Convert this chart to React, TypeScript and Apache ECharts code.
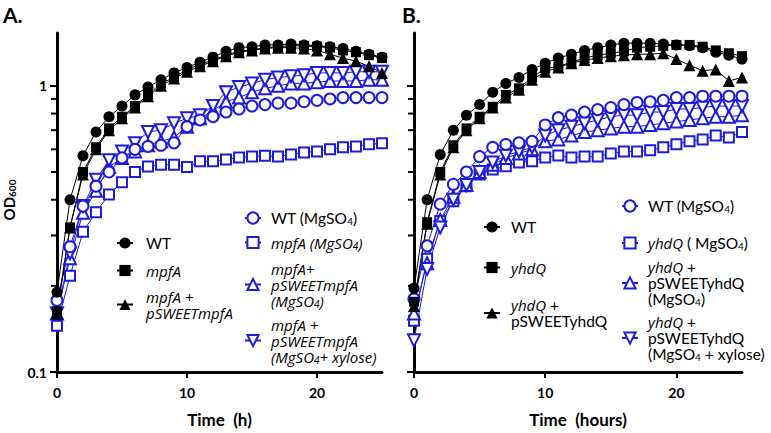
import React, { useEffect, useRef } from 'react';
import * as echarts from 'echarts';

// ---------------- data ----------------
const HOURS = [0, 1, 2, 3, 4, 5, 6, 7, 8, 9, 10, 11, 12, 13, 14, 15, 16, 17, 18, 19, 20, 21, 22, 23, 24, 25];
const X_TICKS = [0, 10, 20];
const Y_TICKS = [0.1, 1];
const Y_MINOR_TICKS = [0.2, 0.3, 0.4, 0.5, 0.6, 0.7, 0.8, 0.9];

// Panel A
const A_WT = [0.19, 0.40, 0.57, 0.69, 0.78, 0.85, 0.93, 0.99, 1.05, 1.11, 1.16, 1.21, 1.26, 1.32, 1.36, 1.37, 1.39, 1.39, 1.40, 1.39, 1.38, 1.37, 1.35, 1.32, 1.29, 1.26];
const A_MPFA = [0.163, 0.32, 0.50, 0.61, 0.71, 0.78, 0.85, 0.93, 1.02, 1.07, 1.14, 1.19, 1.23, 1.28, 1.32, 1.34, 1.36, 1.37, 1.38, 1.38, 1.37, 1.36, 1.33, 1.31, 1.28, 1.25];
const A_MPFA_COMP = [0.16, 0.32, 0.49, 0.60, 0.70, 0.77, 0.84, 0.92, 1.00, 1.06, 1.12, 1.17, 1.22, 1.27, 1.31, 1.33, 1.35, 1.36, 1.36, 1.35, 1.33, 1.29, 1.25, 1.22, 1.17, 1.11];
const A_WT_MG = [0.178, 0.274, 0.38, 0.446, 0.50, 0.56, 0.60, 0.614, 0.62, 0.632, 0.72, 0.76, 0.78, 0.81, 0.83, 0.85, 0.86, 0.87, 0.87, 0.88, 0.89, 0.90, 0.91, 0.91, 0.91, 0.91];
const A_MPFA_MG = [0.145, 0.217, 0.309, 0.362, 0.417, 0.46, 0.50, 0.523, 0.53, 0.53, 0.52, 0.545, 0.545, 0.553, 0.562, 0.566, 0.57, 0.566, 0.576, 0.585, 0.59, 0.60, 0.61, 0.614, 0.625, 0.63];
const A_COMP_MG = [0.16, 0.25, 0.36, 0.43, 0.52, 0.56, 0.59, 0.62, 0.64, 0.66, 0.72, 0.77, 0.82, 0.88, 0.91, 0.95, 0.98, 1.0, 1.02, 1.02, 1.03, 1.04, 1.04, 1.04, 1.05, 1.05];
const A_COMP_MG_XYL = [0.16, 0.26, 0.38, 0.47, 0.55, 0.59, 0.63, 0.69, 0.70, 0.74, 0.77, 0.79, 0.85, 0.95, 0.99, 1.02, 1.05, 1.07, 1.08, 1.09, 1.11, 1.11, 1.11, 1.12, 1.12, 1.12];

// Panel B
const B_WT = [0.196, 0.40, 0.575, 0.70, 0.79, 0.86, 0.95, 1.02, 1.07, 1.14, 1.20, 1.25, 1.29, 1.33, 1.36, 1.39, 1.41, 1.41, 1.41, 1.40, 1.39, 1.38, 1.36, 1.31, 1.28, 1.24];
const B_YHDQ = [0.176, 0.334, 0.50, 0.62, 0.71, 0.78, 0.845, 0.93, 0.98, 1.07, 1.15, 1.17, 1.21, 1.25, 1.28, 1.30, 1.32, 1.36, 1.37, 1.38, 1.39, 1.39, 1.37, 1.33, 1.30, 1.27];
const B_YHDQ_COMP = [0.17, 0.33, 0.49, 0.61, 0.70, 0.77, 0.84, 0.91, 0.97, 1.05, 1.12, 1.16, 1.20, 1.23, 1.25, 1.27, 1.28, 1.29, 1.29, 1.30, 1.24, 1.18, 1.13, 1.14, 1.04, 1.07];
const B_WT_MG = [0.18, 0.276, 0.386, 0.453, 0.50, 0.566, 0.61, 0.624, 0.632, 0.64, 0.73, 0.774, 0.79, 0.81, 0.826, 0.84, 0.86, 0.875, 0.88, 0.89, 0.91, 0.91, 0.92, 0.92, 0.92, 0.92];
const B_YHDQ_MG = [0.151, 0.249, 0.337, 0.395, 0.446, 0.49, 0.51, 0.524, 0.54, 0.545, 0.562, 0.571, 0.562, 0.566, 0.566, 0.58, 0.59, 0.59, 0.595, 0.61, 0.625, 0.64, 0.65, 0.67, 0.66, 0.69];
const B_COMP_MG = [0.16, 0.24, 0.34, 0.41, 0.45, 0.50, 0.53, 0.56, 0.58, 0.60, 0.64, 0.65, 0.67, 0.69, 0.70, 0.71, 0.72, 0.72, 0.73, 0.74, 0.75, 0.76, 0.77, 0.78, 0.78, 0.79];
const B_COMP_MG_XYL = [0.129, 0.229, 0.32, 0.40, 0.45, 0.50, 0.54, 0.57, 0.59, 0.61, 0.67, 0.70, 0.72, 0.74, 0.76, 0.78, 0.79, 0.79, 0.81, 0.81, 0.83, 0.83, 0.84, 0.85, 0.85, 0.85];

// legend labels (rich text)
const LABELS: Record<string, string> = {
  'A WT': '{n|WT}',
  'A mpfA': '{i|mpfA}',
  'A mpfA + pSWEETmpfA': '{i|mpfA +}\n{i|pSWEETmpfA}',
  'A WT (MgSO4)': '{n|WT (MgSO}{ns|4}{n|)}',
  'A mpfA (MgSO4)': '{i|mpfA (MgSO}{is|4}{i|)}',
  'A mpfA+ pSWEETmpfA (MgSO4)': '{i|mpfA+}\n{i|pSWEETmpfA}\n{i|(MgSO}{is|4}{i|)}',
  'A mpfA + pSWEETmpfA (MgSO4 + xylose)': '{i|mpfA +}\n{i|pSWEETmpfA}\n{i|(MgSO}{is|4}{i|+ xylose)}',
  'B WT': '{n|WT}',
  'B yhdQ': '{i|yhdQ}',
  'B yhdQ + pSWEETyhdQ': '{i|yhdQ}{n| +}\n{n|pSWEETyhdQ}',
  'B WT (MgSO4)': '{n|WT (MgSO}{ns|4}{n|)}',
  'B yhdQ ( MgSO4)': '{i|yhdQ}{n| ( MgSO}{ns|4}{n|)}',
  'B yhdQ + pSWEETyhdQ (MgSO4)': '{i|yhdQ}{n| +}\n{n|pSWEETyhdQ}\n{n|(MgSO}{ns|4}{n|)}',
  'B yhdQ + pSWEETyhdQ (MgSO4 + xylose)': '{i|yhdQ}{n| +}\n{n|pSWEETyhdQ}\n{n|(MgSO}{ns|4}{n| + xylose)}',
};

// ---------------- styling ----------------
const FONT = 'Lato, "Noto Sans", "DejaVu Sans", sans-serif';
const IFONT = '"Open Sans", "Noto Sans", "DejaVu Sans", sans-serif';
const BLUE = '#1c1cdc';
const BLACK = '#000000';

const RICH = {
  n: { fontFamily: FONT, fontSize: 15.5, lineHeight: 16, color: BLACK },
  i: { fontFamily: IFONT, fontSize: 15, lineHeight: 16, color: BLACK, fontStyle: 'italic', fontWeight: 'normal' },
  ns: { fontFamily: FONT, fontSize: 10, lineHeight: 6, color: BLACK, verticalAlign: 'bottom' },
  is: { fontFamily: IFONT, fontSize: 10, lineHeight: 6, color: BLACK, fontStyle: 'italic', fontWeight: 'normal', verticalAlign: 'bottom' },
};

type Spec = { name: string; data: number[]; panel: number; symbol: string; color: string; size: number; rotate?: number };

const SERIES_SPECS: Spec[] = [
  { name: 'A mpfA (MgSO4)', data: A_MPFA_MG, panel: 0, symbol: 'emptyRect', color: BLUE, size: 10 },
  { name: 'A mpfA+ pSWEETmpfA (MgSO4)', data: A_COMP_MG, panel: 0, symbol: 'emptyTriangle', color: BLUE, size: 12 },
  { name: 'A mpfA + pSWEETmpfA (MgSO4 + xylose)', data: A_COMP_MG_XYL, panel: 0, symbol: 'emptyTriangle', color: BLUE, size: 12, rotate: 180 },
  { name: 'A WT (MgSO4)', data: A_WT_MG, panel: 0, symbol: 'emptyCircle', color: BLUE, size: 11 },
  { name: 'A mpfA + pSWEETmpfA', data: A_MPFA_COMP, panel: 0, symbol: 'triangle', color: BLACK, size: 12 },
  { name: 'A mpfA', data: A_MPFA, panel: 0, symbol: 'rect', color: BLACK, size: 10 },
  { name: 'A WT', data: A_WT, panel: 0, symbol: 'circle', color: BLACK, size: 11 },
  { name: 'B yhdQ ( MgSO4)', data: B_YHDQ_MG, panel: 1, symbol: 'emptyRect', color: BLUE, size: 10 },
  { name: 'B yhdQ + pSWEETyhdQ (MgSO4)', data: B_COMP_MG, panel: 1, symbol: 'emptyTriangle', color: BLUE, size: 12 },
  { name: 'B yhdQ + pSWEETyhdQ (MgSO4 + xylose)', data: B_COMP_MG_XYL, panel: 1, symbol: 'emptyTriangle', color: BLUE, size: 12, rotate: 180 },
  { name: 'B WT (MgSO4)', data: B_WT_MG, panel: 1, symbol: 'emptyCircle', color: BLUE, size: 11 },
  { name: 'B yhdQ + pSWEETyhdQ', data: B_YHDQ_COMP, panel: 1, symbol: 'triangle', color: BLACK, size: 12 },
  { name: 'B yhdQ', data: B_YHDQ, panel: 1, symbol: 'rect', color: BLACK, size: 10 },
  { name: 'B WT', data: B_WT, panel: 1, symbol: 'circle', color: BLACK, size: 11 },
];

// legend placement (layout only)
const LEGEND_LAYOUT = [
  { name: 'A WT', left: 116, top: 235, pad: 8 },
  { name: 'A mpfA', left: 116, top: 263, pad: 8 },
  { name: 'A mpfA + pSWEETmpfA', left: 116, top: 289, pad: 8 },
  { name: 'A WT (MgSO4)', left: 244, top: 210, pad: 5 },
  { name: 'A mpfA (MgSO4)', left: 244, top: 235, pad: 5 },
  { name: 'A mpfA+ pSWEETmpfA (MgSO4)', left: 244, top: 261, pad: 5 },
  { name: 'A mpfA + pSWEETmpfA (MgSO4 + xylose)', left: 244, top: 317, pad: 5 },
  { name: 'B WT', left: 483, top: 219, pad: 6 },
  { name: 'B yhdQ', left: 483, top: 260, pad: 6 },
  { name: 'B yhdQ + pSWEETyhdQ', left: 483, top: 297, pad: 6 },
  { name: 'B WT (MgSO4)', left: 621, top: 198, pad: 5 },
  { name: 'B yhdQ ( MgSO4)', left: 621, top: 235, pad: 5 },
  { name: 'B yhdQ + pSWEETyhdQ (MgSO4)', left: 621, top: 259, pad: 5 },
  { name: 'B yhdQ + pSWEETyhdQ (MgSO4 + xylose)', left: 621, top: 314, pad: 5 },
];

function buildOption() {
  const axisLine = { show: true, onZero: false, lineStyle: { color: BLACK, width: 3 } };
  const tickLabel = { fontFamily: FONT, fontSize: 14, fontWeight: 'bold', color: BLACK };

  const xAxes = [0, 1].map((g) => ({
    gridIndex: g,
    type: 'value',
    min: 0,
    max: 25,
    interval: 10,
    axisLine,
    axisTick: { show: true, length: 6, lineStyle: { color: BLACK, width: 2 }, customValues: X_TICKS },
    axisLabel: { ...tickLabel, margin: 13, customValues: X_TICKS },
    splitLine: { show: false },
    name: g === 0 ? 'Time  (h)' : 'Time  (hours)',
    nameLocation: 'middle',
    nameGap: 39,
    nameTextStyle: { fontFamily: FONT, fontSize: 17, fontWeight: 'bold', color: BLACK },
  }));

  const yAxes = [0, 1].map((g) => ({
    gridIndex: g,
    type: 'log',
    logBase: 10,
    min: 0.1,
    max: 1.53,
    axisLine,
    axisTick: { show: true, length: 7, lineStyle: { color: BLACK, width: 2 }, customValues: Y_TICKS },
    axisLabel: { show: g === 0, ...tickLabel, margin: 10, customValues: Y_TICKS },
    splitLine: { show: false },
    minorTick: { show: false },
  }));

  const series: any[] = SERIES_SPECS.map((s) => ({
    type: 'line',
    name: s.name,
    xAxisIndex: s.panel,
    yAxisIndex: s.panel,
    data: HOURS.map((h, i) => [h, s.data[i]]),
    symbol: s.symbol,
    symbolSize: s.size,
    symbolRotate: s.rotate || 0,
    showAllSymbol: true,
    lineStyle: { color: s.color, width: 1 },
    itemStyle: { color: s.color, borderColor: s.color, borderWidth: s.symbol.startsWith('empty') ? 2 : 0 },
    emphasis: { disabled: true },
    clip: false,
  }));

  [0, 1].forEach((g) => {
    series.push({
      type: 'custom',
      name: 'minor' + g,
      xAxisIndex: g,
      yAxisIndex: g,
      silent: true,
      clip: false,
      data: Y_MINOR_TICKS.map((v) => [0, v]),
      renderItem: (params: any, api: any) => {
        const p = api.coord([api.value(0), api.value(1)]);
        return {
          type: 'line',
          shape: { x1: p[0] - 6, y1: p[1], x2: p[0], y2: p[1] },
          style: { stroke: BLACK, lineWidth: 2 },
        };
      },
    });
  });

  const legends = LEGEND_LAYOUT.map((l) => ({
    data: [l.name],
    left: l.left,
    top: l.top,
    padding: 0,
    orient: 'vertical',
    itemWidth: 16,
    itemHeight: 14,
    selectedMode: false,
    formatter: (name: string) => LABELS[name],
    textStyle: { fontFamily: FONT, fontSize: 15.5, color: BLACK, padding: [0, 0, 0, l.pad], rich: RICH },
  }));

  return {
    animation: false,
    backgroundColor: '#ffffff',
    grid: [
      { left: 57, top: 33, width: 325, height: 341 },
      { left: 414, top: 33, width: 328, height: 341 },
    ],
    xAxis: xAxes,
    yAxis: yAxes,
    legend: legends,
    series,
    graphic: [
      { type: 'text', left: 3, top: 4, style: { text: 'A.', fontFamily: FONT, fontSize: 21, fontWeight: 'bold', fill: BLACK } },
      { type: 'text', left: 402, top: 4, style: { text: 'B.', fontFamily: FONT, fontSize: 21, fontWeight: 'bold', fill: BLACK } },
      {
        type: 'text',
        x: 9,
        y: 200,
        rotation: Math.PI / 2,
        style: {
          text: '{b|OD}{s|600}',
          align: 'center',
          verticalAlign: 'middle',
          rich: {
            b: { fontFamily: FONT, fontSize: 15, fontWeight: 'bold', fill: BLACK, lineHeight: 16 },
            s: { fontFamily: FONT, fontSize: 10, fontWeight: 'bold', fill: BLACK, lineHeight: 8, verticalAlign: 'bottom' },
          },
        },
      },
    ],
  };
}

export default function App() {
  const ref = useRef<HTMLDivElement>(null);
  useEffect(() => {
    if (!ref.current) return;
    const chart = echarts.init(ref.current, null, { renderer: 'svg' });
    chart.setOption(buildOption() as any);
    return () => chart.dispose();
  }, []);
  return (
    <div
      ref={ref}
      style={{ position: 'fixed', left: 0, top: 0, width: 771, height: 433, background: '#fff' }}
    />
  );
}
